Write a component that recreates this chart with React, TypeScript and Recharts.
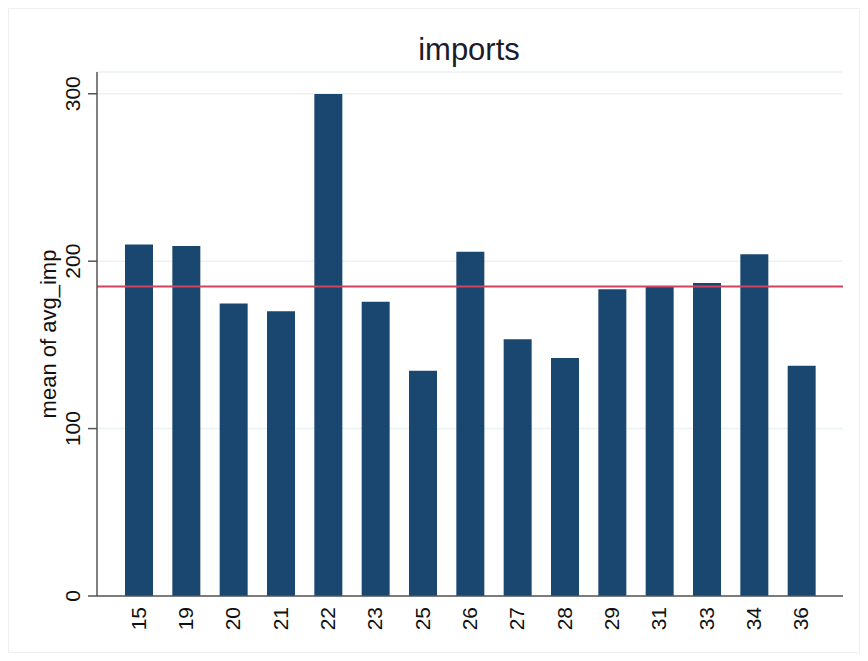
import { BarChart, Bar, XAxis, YAxis, CartesianGrid, ReferenceLine } from "recharts";

const categories = ["15", "19", "20", "21", "22", "23", "25", "26", "27", "28", "29", "31", "33", "34", "36"];
const avgImp = [209.9, 209.0, 174.7, 170.1, 299.8, 175.7, 134.5, 205.6, 153.4, 142.1, 183.3, 185.1, 186.9, 204.2, 137.6];
const yTicks = [0, 100, 200, 300];
const overallMean = 184.8;

const data = categories.map((c, i) => ({ name: c, value: avgImp[i] }));

const FONT = "'Liberation Sans', Arial, sans-serif";
const BAR = "#1a476f";
const AXIS = "#555555";

const W = 852;
const H = 645;

function YTick(props: any) {
  const { x, y, payload } = props;
  return (
    <text
      transform={`translate(${x},${y}) rotate(-90)`}
      textAnchor="middle"
      fontFamily={FONT}
      fontSize={21}
      fill="#111"
    >
      {payload.value}
    </text>
  );
}

function XTick(props: any) {
  const { x, y, payload } = props;
  return (
    <text
      transform={`translate(${x + 7},${y}) rotate(-90)`}
      textAnchor="end"
      fontFamily={FONT}
      fontSize={21}
      fill="#111"
    >
      {payload.value}
    </text>
  );
}

function YLabel(props: any) {
  const vb = props.viewBox || {};
  const cy = vb.y + vb.height / 2;
  return (
    <text
      transform={`translate(48,${cy}) rotate(-90)`}
      textAnchor="middle"
      fontFamily={FONT}
      fontSize={22}
      fill="#111"
    >
      mean of avg_imp
    </text>
  );
}

export default function App() {
  return (
    <div
      style={{
        position: "relative",
        width: W,
        height: H,
        background: "#fff",
        outline: "1px solid #efefef",
        outlineOffset: -1,
      }}
    >
      <BarChart
        width={W}
        height={H}
        data={data}
        margin={{ top: 64, right: 17, left: 0, bottom: 0 }}
      >
        <CartesianGrid horizontal vertical={false} stroke="#eaf2f3" strokeWidth={1.5} />
        <XAxis
          dataKey="name"
          height={57}
          padding={{ left: 18, right: 18 }}
          tickLine={false}
          tickSize={0}
          tickMargin={11}
          axisLine={{ stroke: AXIS, strokeWidth: 1.5 }}
          tick={<XTick />}
          interval={0}
        />
        <YAxis
          width={89}
          domain={[0, 313]}
          ticks={yTicks}
          tickSize={9}
          tickMargin={8}
          tickLine={{ stroke: AXIS, strokeWidth: 1.5 }}
          axisLine={{ stroke: AXIS, strokeWidth: 1.5 }}
          tick={<YTick />}
          label={<YLabel />}
          allowDataOverflow
        />
        <Bar dataKey="value" fill={BAR} barSize={28} isAnimationActive={false} />
        <ReferenceLine y={overallMean} stroke="#d1435f" strokeWidth={2} ifOverflow="extendDomain" />
      </BarChart>
      <svg
        width={W}
        height={H}
        style={{ position: "absolute", left: 0, top: 0, pointerEvents: "none" }}
      >
        <text x={461} y={52} textAnchor="middle" fontFamily={FONT} fontSize={31} fill="#1b1b2a">
          imports
        </text>
      </svg>
    </div>
  );
}
